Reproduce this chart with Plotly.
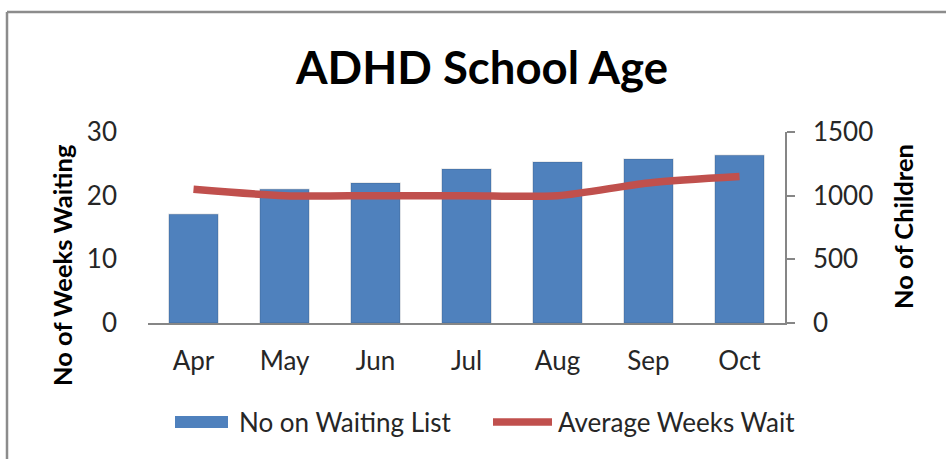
import plotly.graph_objects as go

# ---- data ----
months = ["Apr", "May", "Jun", "Jul", "Aug", "Sep", "Oct"]
waiting_list = [855, 1050, 1100, 1210, 1265, 1288, 1318]   # No on Waiting List (right axis)
avg_weeks = [21, 20, 20, 20, 20, 22, 23]                   # Average Weeks Wait (left axis)
left_ticks = [0, 10, 20, 30]
right_ticks = [0, 500, 1000, 1500]

W, H = 946, 459
PL, PR, PT, PB = 148, 785, 132, 323  # plot area pixel edges

def px(x):
    return (x - PL) / (PR - PL)

def py(y):
    return (PB - y) / (PB - PT)

BLUE = "#4F81BD"
RED = "#C0504D"
FONT = "Lato"
TICK = 26
TXT = "#262626"

fig = go.Figure()
fig.add_trace(go.Bar(
    x=months, y=waiting_list, name="No on Waiting List",
    marker=dict(color=BLUE, line=dict(color="rgba(0,0,0,0.10)", width=1.5)),
    yaxis="y", showlegend=False,
))
fig.add_trace(go.Scatter(
    x=months, y=avg_weeks, name="Average Weeks Wait",
    mode="lines", line=dict(color=RED, width=7.5, shape="spline", smoothing=0.8),
    yaxis="y2", showlegend=False,
))

fig.update_layout(
    width=W, height=H,
    margin=dict(l=PL, r=W - PR, t=PT, b=H - PB, pad=0),
    paper_bgcolor="white", plot_bgcolor="white",
    font=dict(family=FONT, color=TXT, size=TICK),
    bargap=0.46,
    xaxis=dict(
        showline=True, linecolor="#868686", linewidth=1.5,
        ticks="", showgrid=False, tickfont=dict(size=TICK, family=FONT, color=TXT),
        ticklabelstandoff=14,
    ),
    yaxis=dict(
        side="right", range=[0, 1500], tickvals=right_ticks,
        showline=True, linecolor="#868686", linewidth=1.5,
        ticks="outside", ticklen=8, tickcolor="#868686", tickwidth=1.5,
        showgrid=False, zeroline=False, tickfont=dict(size=TICK, family=FONT, color=TXT),
        ticklabelstandoff=13,
    ),
    yaxis2=dict(
        side="left", overlaying="y", range=[0, 30], tickvals=left_ticks,
        showline=False, ticks="", showgrid=False, zeroline=False,
        tickfont=dict(size=TICK, family=FONT, color=TXT), ticklabelstandoff=30,
    ),
)

annotations = [
    dict(text="<b>ADHD School Age</b>", x=px(481), y=py(67), xref="paper", yref="paper",
         showarrow=False, font=dict(size=45.5, family=FONT, color="black"),
         xanchor="center", yanchor="middle"),
    dict(text="<b>No of Weeks Waiting</b>", x=px(62), y=py(265), xref="paper", yref="paper",
         showarrow=False, textangle=-90, font=dict(size=25.5, family=FONT, color="black"),
         xanchor="center", yanchor="middle"),
    dict(text="<b>No of Children</b>", x=px(903), y=py(227), xref="paper", yref="paper",
         showarrow=False, textangle=-90, font=dict(size=25.5, family=FONT, color="black"),
         xanchor="center", yanchor="middle"),
    dict(text="No on Waiting List", x=px(237), y=py(422), xref="paper", yref="paper",
         showarrow=False, font=dict(size=26, family=FONT, color=TXT),
         xanchor="left", yanchor="middle"),
    dict(text="Average Weeks Wait", x=px(556), y=py(422), xref="paper", yref="paper",
         showarrow=False, font=dict(size=26, family=FONT, color=TXT),
         xanchor="left", yanchor="middle"),
]

shapes = [
    # chart border (top and left edges visible)
    dict(type="line", xref="paper", yref="paper", x0=px(7), x1=px(W + 5), y0=py(12), y1=py(12),
         line=dict(color="#8c8c8c", width=2.5)),
    dict(type="line", xref="paper", yref="paper", x0=px(7), x1=px(7), y0=py(12), y1=py(H + 5),
         line=dict(color="#8c8c8c", width=2.5)),
    # legend swatches
    dict(type="rect", xref="paper", yref="paper", x0=px(175), x1=px(228), y0=py(428), y1=py(416),
         fillcolor=BLUE, line=dict(width=0)),
    dict(type="line", xref="paper", yref="paper", x0=px(493), x1=px(552), y0=py(422), y1=py(422),
         line=dict(color=RED, width=7.5)),
]

fig.update_layout(annotations=annotations, shapes=shapes)
fig.write_html(
    "out.html",
    config={"displayModeBar": False},
    post_script="document.body.style.margin='0';document.body.style.overflow='hidden';",
)
